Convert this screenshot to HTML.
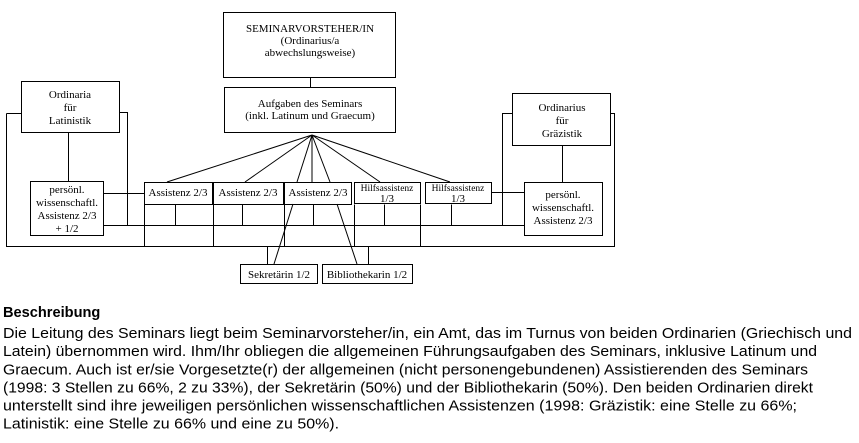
<!DOCTYPE html>
<html><head><meta charset="utf-8"><style>
html,body{margin:0;padding:0;background:#fff;width:859px;height:443px;overflow:hidden}
svg{display:block}
.d{font-family:"Liberation Serif",serif;font-size:11px;fill:#000}
.s{font-family:"Liberation Serif",serif;font-size:9.5px;fill:#000}
.t{font-family:"Liberation Sans",sans-serif;font-size:14.6px;fill:#000}
</style></head><body>
<svg width="859" height="443" viewBox="0 0 859 443" xmlns="http://www.w3.org/2000/svg">
<g fill="none" stroke="#000" stroke-width="1" shape-rendering="crispEdges">
<rect x="223.5" y="12.5" width="172" height="65"/>
<rect x="224.5" y="87.5" width="171" height="45"/>
<rect x="21.5" y="81.5" width="98" height="51"/>
<rect x="512.5" y="93.5" width="98" height="52"/>
<rect x="30.5" y="181.5" width="73" height="54"/>
<rect x="524.5" y="182.5" width="78" height="53"/>
<rect x="144.5" y="182.5" width="68" height="22"/>
<rect x="213.5" y="182.5" width="70" height="22"/>
<rect x="284.5" y="182.5" width="67" height="22"/>
<rect x="354.5" y="182.5" width="66" height="21"/>
<rect x="425.5" y="182.5" width="66" height="21"/>
<rect x="240.5" y="264.5" width="77" height="19"/>
<rect x="322.5" y="264.5" width="90" height="19"/>
<path d="M310.5 77.5V87.5"/>
<path d="M68.5 132.5V181.5"/>
<path d="M562.5 145.5V182.5"/>
<path d="M6.5 113.5H21.5M6.5 113.5V246.5H614.5V113.5H610.5"/>
<path d="M119.5 112.5H127.5V225.5"/>
<path d="M512.5 113.5H502.5V225.5"/>
<path d="M103.5 193.5H144.5"/>
<path d="M491.5 192.5H524.5"/>
<path d="M103.5 225.5H524.5"/>
<path d="M144.5 204.5V246.5M175.5 204.5V225.5M213.5 204.5V246.5M242.5 204.5V225.5M284.5 204.5V246.5M313.5 204.5V225.5M354.5 204.5V246.5M384.5 204.5V225.5M420.5 204.5V246.5M451.5 204.5V225.5"/>
<path d="M267.5 246.5V264.5M368.5 246.5V264.5"/>
</g>
<g fill="none" stroke="#000" stroke-width="1">
<path d="M312 135L167 182M312 135L245 182M312 135L297 182M312 135V182M312 135L330 182M312 135L380 182M312 135L450 182"/>
<path d="M293 204L274 264M337 204L357 264"/>
</g>
<g text-anchor="middle">
<text class="d" x="310" y="32">SEMINARVORSTEHER/IN</text>
<text class="d" x="310" y="44">(Ordinarius/a</text>
<text class="d" x="310" y="56">abwechslungsweise)</text>
<text class="d" x="310" y="107">Aufgaben des Seminars</text>
<text class="d" x="310" y="119">(inkl. Latinum und Graecum)</text>
<text class="d" x="70" y="98">Ordinaria</text>
<text class="d" x="70" y="111">für</text>
<text class="d" x="70" y="124">Latinistik</text>
<text class="d" x="562" y="111">Ordinarius</text>
<text class="d" x="562" y="124">für</text>
<text class="d" x="562" y="137">Gräzistik</text>
<text class="d" x="67" y="193">persönl.</text>
<text class="d" x="67" y="206">wissenschaftl.</text>
<text class="d" x="67" y="219">Assistenz 2/3</text>
<text class="d" x="67" y="232">+ 1/2</text>
<text class="d" x="563" y="198">persönl.</text>
<text class="d" x="563" y="211">wissenschaftl.</text>
<text class="d" x="563" y="224">Assistenz 2/3</text>
<text class="d" x="178" y="196">Assistenz 2/3</text>
<text class="d" x="248" y="196">Assistenz 2/3</text>
<text class="d" x="318" y="196">Assistenz 2/3</text>
<text class="s" x="387" y="191">Hilfsassistenz</text>
<text class="d" x="387" y="202">1/3</text>
<text class="s" x="458" y="191">Hilfsassistenz</text>
<text class="d" x="458" y="202">1/3</text>
<text class="d" x="279" y="278">Sekretärin 1/2</text>
<text class="d" x="367" y="278">Bibliothekarin 1/2</text>
</g>
<text class="t" x="3" y="317" font-weight="bold">Beschreibung</text>
<text class="t" x="3" y="338" textLength="849" lengthAdjust="spacingAndGlyphs">Die Leitung des Seminars liegt beim Seminarvorsteher/in, ein Amt, das im Turnus von beiden Ordinarien (Griechisch und</text>
<text class="t" x="3" y="356" textLength="814" lengthAdjust="spacingAndGlyphs">Latein) übernommen wird. Ihm/Ihr obliegen die allgemeinen Führungsaufgaben des Seminars, inklusive Latinum und</text>
<text class="t" x="3" y="374.5" textLength="805" lengthAdjust="spacingAndGlyphs">Graecum. Auch ist er/sie Vorgesetzte(r) der allgemeinen (nicht personengebundenen) Assistierenden des Seminars</text>
<text class="t" x="3" y="392.5" textLength="810" lengthAdjust="spacingAndGlyphs">(1998: 3 Stellen zu 66%, 2 zu 33%), der Sekretärin (50%) und der Bibliothekarin (50%). Den beiden Ordinarien direkt</text>
<text class="t" x="3" y="410.5" textLength="794" lengthAdjust="spacingAndGlyphs">unterstellt sind ihre jeweiligen persönlichen wissenschaftlichen Assistenzen (1998: Gräzistik: eine Stelle zu 66%;</text>
<text class="t" x="3" y="428.5" textLength="336" lengthAdjust="spacingAndGlyphs">Latinistik: eine Stelle zu 66% und eine zu 50%).</text>
</svg>
</body></html>
